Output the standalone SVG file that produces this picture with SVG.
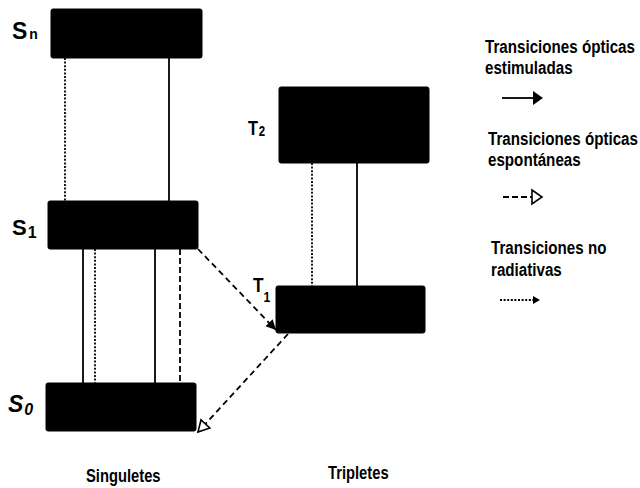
<svg xmlns="http://www.w3.org/2000/svg" width="640" height="488" viewBox="0 0 640 488">
<defs>
<style>
.lvl{fill:#000;stroke:#000;stroke-width:1}
.lab{font-family:"Liberation Sans",Arial,sans-serif;font-weight:bold;fill:#000}
.cond{font-family:"Liberation Sans",Arial,sans-serif;font-weight:bold;fill:#000}
.solid{stroke:#000;stroke-width:1.8;fill:none}
.dot{stroke:#000;stroke-width:1.8;fill:none;stroke-dasharray:2 1.6}
.dash{stroke:#000;stroke-width:1.8;fill:none;stroke-dasharray:6 3}
.ddash{stroke:#000;stroke-width:1.8;fill:none;stroke-dasharray:6 4}
.hollow{fill:#fff;stroke:#000;stroke-width:1.6}
</style>
<marker id="hf" markerUnits="userSpaceOnUse" markerWidth="12" markerHeight="12" refX="10" refY="5" orient="auto"><path d="M0,0 L10,5 L0,10 Z" fill="#000"/></marker>
<marker id="hh" markerUnits="userSpaceOnUse" markerWidth="16" markerHeight="16" refX="12" refY="7" orient="auto"><path d="M1,1 L12,7 L1,13 Z" fill="#fff" stroke="#000" stroke-width="1.6"/></marker>
</defs>
<rect width="640" height="488" fill="#fff"/>

<g id="connectors">
<line class="dot" x1="65" y1="58" x2="65" y2="201"/>
<line class="solid" x1="169" y1="58" x2="169" y2="201"/>
<line class="solid" x1="83" y1="249" x2="83" y2="383"/>
<line class="dot" x1="95" y1="249" x2="95" y2="383"/>
<line class="solid" x1="155" y1="249" x2="155" y2="383"/>
<line class="dash" x1="180" y1="249" x2="180" y2="383"/>
<line class="dot" x1="312" y1="163" x2="312" y2="286"/>
<line class="solid" x1="357" y1="163" x2="357" y2="286"/>
<line class="ddash" x1="198" y1="249" x2="276" y2="330" marker-end="url(#hf)"/>
<line class="ddash" x1="288" y1="334" x2="198" y2="432" marker-end="url(#hh)"/>
</g>

<g id="Sn">
<rect class="lvl" x="51" y="9" width="151" height="49" rx="2"/>
<text class="lab" x="12" y="39" font-size="23">S<tspan font-size="14" dx="2">n</tspan></text>
</g>
<g id="S1">
<rect class="lvl" x="48" y="201" width="150" height="48" rx="2"/>
<text class="lab" x="12" y="235" font-size="22">S<tspan font-size="16" dx="1" dy="3">1</tspan></text>
</g>
<g id="S0">
<rect class="lvl" x="46" y="383" width="150" height="48" rx="2"/>
<text class="lab" x="8" y="412" font-size="23" font-style="italic">S<tspan font-size="16" dx="1" dy="3">0</tspan></text>
</g>
<g id="T2">
<rect class="lvl" x="279" y="87" width="150" height="76" rx="2"/>
<text class="cond" transform="translate(248,135) scale(0.82,1)" font-size="20">T<tspan font-size="14" dx="1" dy="1">2</tspan></text>
</g>
<g id="T1">
<rect class="lvl" x="276" y="286" width="149" height="47" rx="2"/>
<text class="cond" transform="translate(253,292) scale(0.82,1)" font-size="21">T<tspan font-size="15" dy="10">1</tspan></text>
</g>

<g id="legend">
<text class="cond" transform="translate(485,53) scale(0.82,1)" font-size="18.5">Transiciones ópticas</text>
<text class="cond" transform="translate(485,74) scale(0.82,1)" font-size="18.5">estimuladas</text>
<line class="solid" x1="502" y1="98" x2="534" y2="98"/>
<path d="M533,91 L543,98 L533,105 Z" fill="#000"/>
<text class="cond" transform="translate(488,145) scale(0.82,1)" font-size="18.5">Transiciones ópticas</text>
<text class="cond" transform="translate(488,166) scale(0.82,1)" font-size="18.5">espontáneas</text>
<line class="dash" x1="503" y1="197" x2="532" y2="197"/>
<path class="hollow" d="M532,190 L542,197 L532,204 Z"/>
<text class="cond" transform="translate(491,254) scale(0.82,1)" font-size="18.5">Transiciones no</text>
<text class="cond" transform="translate(491,276) scale(0.82,1)" font-size="18.5">radiativas</text>
<line class="dot" x1="500" y1="300" x2="533" y2="300"/>
<path d="M533,296 L540,300 L533,304 Z" fill="#000"/>
</g>

<text class="cond" transform="translate(86,482) scale(0.82,1)" font-size="18">Singuletes</text>
<text class="cond" transform="translate(328,479) scale(0.82,1)" font-size="18">Tripletes</text>
</svg>
